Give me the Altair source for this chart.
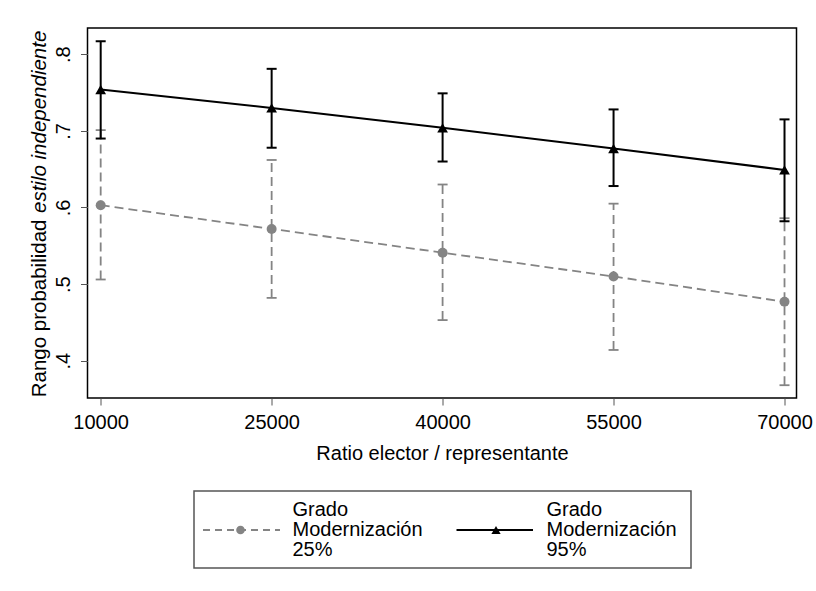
import altair as alt
import pandas as pd

# Data
ratio = [10000, 25000, 40000, 55000, 70000]
hi_mean = [0.754, 0.730, 0.704, 0.677, 0.649]
hi_lo = [0.690, 0.678, 0.660, 0.628, 0.582]
hi_hi = [0.817, 0.781, 0.749, 0.728, 0.715]
lo_mean = [0.603, 0.572, 0.541, 0.510, 0.477]
lo_lo = [0.506, 0.482, 0.453, 0.414, 0.368]
lo_hi = [0.701, 0.662, 0.630, 0.605, 0.586]
y_ticks = [0.4, 0.5, 0.6, 0.7, 0.8]
legend_25 = ["Grado", "Modernización", "25%"]
legend_95 = ["Grado", "Modernización", "95%"]

FONT = "Liberation Sans"
GRAY = "#848484"

df_hi = pd.DataFrame({"x": ratio, "m": hi_mean, "lo": hi_lo, "hi": hi_hi})
df_lo = pd.DataFrame({"x": ratio, "m": lo_mean, "lo": lo_lo, "hi": lo_hi})
one = pd.DataFrame({"a": [0]})

xscale = alt.Scale(domain=[8843, 71052], nice=False, zero=False)
yscale = alt.Scale(domain=[0.3513, 0.8343], nice=False, zero=False)

xaxis = alt.Axis(values=ratio, format="d", title="Ratio elector / representante",
                 labelFontSize=20, titleFontSize=20, titleFontWeight="normal",
                 labelFont=FONT, titleFont=FONT, labelColor="black", titleColor="black",
                 tickColor="#555", tickSize=7, tickWidth=1, domain=False, grid=False,
                 labelPadding=7, titlePadding=11)
yaxis = alt.Axis(values=y_ticks, labelExpr="replace(format(datum.value, '.1f'), '0.', '.')",
                 title=None, labelFontSize=20, labelFont=FONT, labelColor="black",
                 labelAngle=270, labelAlign="center", labelBaseline="bottom",
                 tickColor="#555", tickSize=7, tickWidth=1, domain=False, grid=False,
                 labelPadding=7)

X = alt.X("x:Q", scale=xscale, axis=xaxis)
Y = alt.Y("m:Q", scale=yscale, axis=yaxis)


def series(df, color, dash, width, shape, size):
    base = alt.Chart(df)
    line_kw = dict(color=color, strokeWidth=width)
    if dash:
        line_kw["strokeDash"] = dash
    line = base.mark_line(**line_kw).encode(x=X, y=Y)
    bar = base.mark_rule(**line_kw).encode(x="x:Q", y="lo:Q", y2="hi:Q")
    cap_lo = base.mark_rule(color=color, strokeWidth=width, xOffset=-5, x2Offset=5).encode(
        x="x:Q", x2="x:Q", y="lo:Q")
    cap_hi = base.mark_rule(color=color, strokeWidth=width, xOffset=-5, x2Offset=5).encode(
        x="x:Q", x2="x:Q", y="hi:Q")
    pts = base.mark_point(shape=shape, filled=True, color=color, size=size, opacity=1).encode(
        x="x:Q", y="m:Q")
    return [bar, cap_lo, cap_hi, line, pts]


layers = []
layers += series(df_lo, GRAY, [9, 5], 1.8, "circle", 100)
layers += series(df_hi, "black", None, 2, "triangle-up", 115)

# Y axis title with italic part
ytitle_a = alt.Chart(one).mark_text(
    text="Rango probabilidad", angle=270, align="right", baseline="alphabetic",
    font=FONT, fontSize=20.5, color="black").encode(x=alt.value(-41.5), y=alt.value(191.5))
ytitle_b = alt.Chart(one).mark_text(
    text="estilo independiente", angle=270, align="left", baseline="alphabetic",
    font=FONT, fontSize=20.5, fontStyle="italic", color="black").encode(
    x=alt.value(-41.5), y=alt.value(185))

# Legend (drawn manually)
leg_box = alt.Chart(one).mark_rect(fill="white", stroke="#555", strokeWidth=1.5).encode(
    x=alt.value(106.5), x2=alt.value(603.5), y=alt.value(463), y2=alt.value(540))
leg_l1 = alt.Chart(one).mark_rule(color=GRAY, strokeWidth=1.8, strokeDash=[7, 5]).encode(
    x=alt.value(115.5), x2=alt.value(192.5), y=alt.value(502))
leg_p1 = alt.Chart(one).mark_point(shape="circle", filled=True, color=GRAY, size=75, opacity=1).encode(
    x=alt.value(153), y=alt.value(502))
leg_l2 = alt.Chart(one).mark_rule(color="black", strokeWidth=2).encode(
    x=alt.value(369), x2=alt.value(445.5), y=alt.value(502))
leg_p2 = alt.Chart(one).mark_point(shape="triangle-up", filled=True, color="black", size=85, opacity=1).encode(
    x=alt.value(408.5), y=alt.value(502))
leg_t1 = alt.Chart(one).mark_text(
    text=legend_25, align="left", baseline="middle", font=FONT, fontSize=20,
    lineHeight=20, color="black").encode(x=alt.value(205), y=alt.value(482))
leg_t2 = alt.Chart(one).mark_text(
    text=legend_95, align="left", baseline="middle", font=FONT, fontSize=20,
    lineHeight=20, color="black").encode(x=alt.value(459), y=alt.value(482))

layers += [ytitle_a, ytitle_b, leg_box, leg_l1, leg_p1, leg_l2, leg_p2, leg_t1, leg_t2]

chart = alt.layer(*layers).properties(
    width=709, height=370,
    autosize=alt.AutoSizeParams(type="none"),
    padding={"left": 87.5, "top": 28, "right": 19.5, "bottom": 193},
    background="white",
).configure_view(stroke="black", strokeWidth=1.5)

chart.save("out.html", embed_options={"renderer": "svg", "actions": False})
